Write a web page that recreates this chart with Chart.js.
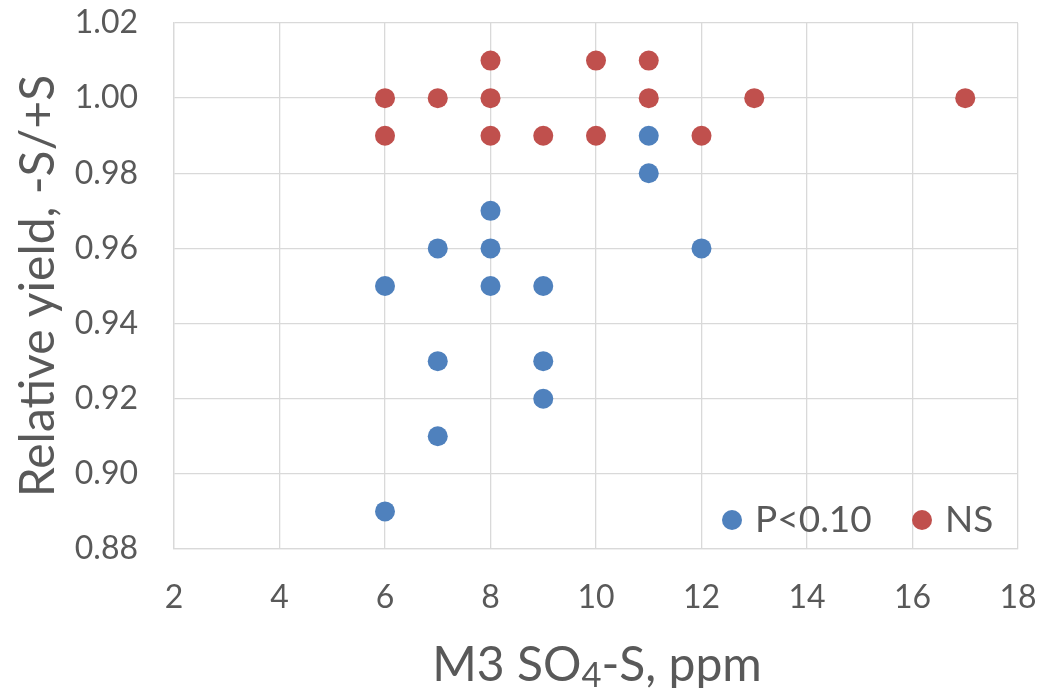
<!DOCTYPE html>
<html><head><meta charset="utf-8">
<script src="https://cdn.jsdelivr.net/npm/chart.js@4/dist/chart.umd.min.js"></script>
<style>
html,body{margin:0;padding:0;background:#fff;}
#wrap{position:relative;width:1043px;height:688px;overflow:hidden;}
#xtitle{position:absolute;left:174px;width:846px;top:639px;text-align:center;font-family:Lato,sans-serif;font-size:48px;line-height:48px;color:#595959;white-space:nowrap;}
#xtitle span{font-size:0.72em;position:relative;top:0.16em;}
</style></head><body>
<div id="wrap"><canvas id="c" width="1043" height="688"></canvas><div id="xtitle">M3 SO<span>4</span>-S, ppm</div></div>
<script>
const seriesNames = ['P<0.10', 'NS'];
const sigX = [6, 6, 7, 7, 7, 8, 8, 8, 9, 9, 9, 11, 11, 12];
const sigY = [0.95, 0.89, 0.96, 0.93, 0.91, 0.97, 0.96, 0.95, 0.95, 0.93, 0.92, 0.99, 0.98, 0.96];
const nsX = [6, 6, 7, 8, 8, 8, 9, 10, 10, 11, 11, 12, 13, 17];
const nsY = [1.00, 0.99, 1.00, 1.01, 1.00, 0.99, 0.99, 1.01, 0.99, 1.01, 1.00, 0.99, 1.00, 1.00];
const xTicks = [2, 4, 6, 8, 10, 12, 14, 16, 18];
const yTicks = [0.88, 0.90, 0.92, 0.94, 0.96, 0.98, 1.00, 1.02];
const yTitle = 'Relative yield, -S/+S';

const BLUE = '#4F81BD', RED = '#C0504D', TXT = '#595959', GRID = '#D9D9D9';
const toPts = (xs, ys) => xs.map((x, i) => ({x: x, y: ys[i]}));

const legendPlugin = {
  id: 'insideLegend',
  afterDraw(chart) {
    const ctx = chart.ctx, a = chart.chartArea;
    const y = a.bottom - 29;
    const xs = [a.right - 286, a.right - 96];
    ctx.save();
    ctx.font = '37px Lato';
    ctx.textBaseline = 'middle';
    ctx.textAlign = 'left';
    chart.data.datasets.forEach((ds, i) => {
      ctx.fillStyle = ds.backgroundColor;
      ctx.beginPath();
      ctx.arc(xs[i], y, 10, 0, Math.PI * 2);
      ctx.fill();
      ctx.fillStyle = TXT;
      ctx.fillText(ds.label, xs[i] + 23, y);
    });
    ctx.restore();
  }
};

const zeroPad = s => { s.paddingTop = 0; s.paddingBottom = 0; s.paddingLeft = 0; s.paddingRight = 0; };

new Chart(document.getElementById('c'), {
  type: 'scatter',
  data: {
    datasets: [
      {label: seriesNames[0], data: toPts(sigX, sigY), backgroundColor: BLUE, borderColor: BLUE, pointRadius: 10, pointHoverRadius: 10, borderWidth: 0},
      {label: seriesNames[1], data: toPts(nsX, nsY), backgroundColor: RED, borderColor: RED, pointRadius: 10, pointHoverRadius: 10, borderWidth: 0}
    ]
  },
  options: {
    responsive: false,
    animation: false,
    events: [],
    layout: {padding: {top: 23, right: 25, left: 0, bottom: 0}},
    plugins: {legend: {display: false}, tooltip: {enabled: false}},
    scales: {
      x: {
        type: 'linear', min: xTicks[0], max: xTicks[xTicks.length - 1],
        afterBuildTicks: s => { s.ticks = xTicks.map(v => ({value: v})); },
        afterFit: s => { s.height = 139; zeroPad(s); },
        grid: {color: GRID, lineWidth: 1.3, drawTicks: false},
        border: {color: GRID, width: 1.3},
        ticks: {color: TXT, font: {family: 'Lato', size: 32}, padding: 29, maxRotation: 0, callback: v => String(v)}
      },
      y: {
        type: 'linear', min: yTicks[0], max: yTicks[yTicks.length - 1],
        afterBuildTicks: s => { s.ticks = yTicks.map(v => ({value: v})); },
        afterFit: s => { s.width = 174; zeroPad(s); },
        grid: {color: GRID, lineWidth: 1.3, drawTicks: false},
        border: {color: GRID, width: 1.3},
        title: {display: true, text: yTitle, color: TXT, font: {family: 'Lato', size: 48}, padding: {top: 10, bottom: 0}},
        ticks: {color: TXT, font: {family: 'Lato', size: 32}, padding: 36, callback: v => Number(v).toFixed(2)}
      }
    }
  },
  plugins: [legendPlugin]
});
</script>
</body></html>
